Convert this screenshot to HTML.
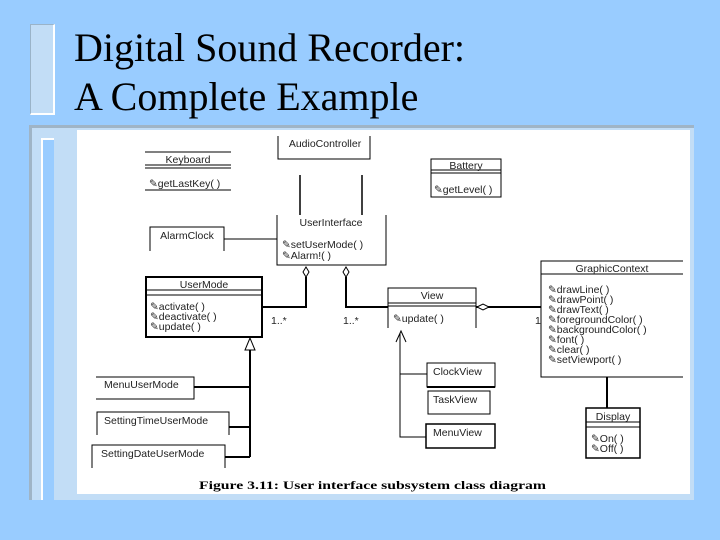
<!DOCTYPE html>
<html><head><style>
body{margin:0;width:720px;height:540px;background:#99ccff;overflow:hidden;position:relative;font-family:"Liberation Serif",serif}
.t{position:absolute;left:74px;font-size:40px;color:#000;line-height:1}
</style></head><body>
<div style="position:absolute;left:30px;top:24px;width:22px;height:88px;background:#c2ddf6;border:1px solid #9ab3c8;border-right:2px solid #fff;border-bottom:2px solid #fff"></div>
<div class="t" style="top:28px">Digital Sound Recorder:</div>
<div class="t" style="top:77px">A Complete Example</div>
<div style="position:absolute;left:29px;top:125px;width:662px;height:372px;background:#c2ddf6;border-top:3px solid #9fb4c6;border-left:3px solid #9fb4c6"></div>
<div style="position:absolute;left:41px;top:138px;width:11px;height:360px;background:#99ccff;border-left:2px solid #fff;border-top:2px solid #fff"></div>
<svg style="position:absolute;left:0;top:0" width="720" height="540" font-family="Liberation Sans, sans-serif" font-size="10.5" fill="#222">
<rect x="77" y="130" width="613" height="364" fill="#fff"/>
<g stroke="#000" fill="none" stroke-width="1">
<path d="M278 136V159H370V136"/>
<path d="M300 175V215M362 175V215" stroke-width="1.5"/>
<path d="M145 152H231M145 165H231M145 168H231M145 190H231"/>
<rect x="431" y="159" width="70" height="38"/><path d="M431 170H501M431 173H501"/>
<path d="M277 215V265H386V215"/>
<path d="M150 251V227H224V251"/><path d="M224 239H277" />
<rect x="146" y="277" width="116" height="60" stroke-width="2"/><path d="M146 290H262M146 295H262"/>
<path d="M306 277V307H262M346 277V307H388" stroke-width="2"/>
<path d="M306 267l3 5l-3 5l-3-5z M346 267l3 5l-3 5l-3-5z" fill="#fff" stroke-width="1"/>
<path d="M388 328V288H476V328M388 303H476M388 306H476"/>
<path d="M476 307H541" stroke-width="2"/>
<path d="M477 307l6-3l6 3l-6 3z" fill="#fff"/>
<path d="M683 261H541V377H683M541 274H683"/>
<path d="M607 377V408" stroke-width="2"/>
<rect x="586" y="408" width="54" height="50" stroke-width="1.5"/><path d="M586 422H640M586 427H640"/>
<path d="M250 338l-5 12h10z" fill="#fff"/>
<path d="M250 350V457M194 387H250M229 427H250M225 457H250" stroke-width="2"/>
<path d="M96 377H194V399H96"/>
<path d="M97 435V412H229V435"/>
<path d="M92 468V445H225V468"/>
<path d="M396 342L401 331L406 342"/>
<path d="M400 333V437H426M400 374H427"/>
<rect x="427" y="363" width="68" height="24" /><path d="M427 387H495" stroke-width="2"/>
<rect x="428" y="391" width="62" height="23"/>
<rect x="426" y="424" width="69" height="24" stroke-width="1.5"/>
</g>
<g text-anchor="middle">
<text x="325" y="147">AudioController</text>
<text x="188" y="163">Keyboard</text>
<text x="466" y="169">Battery</text>
<text x="331" y="226">UserInterface</text>
<text x="187" y="239">AlarmClock</text>
<text x="204" y="288">UserMode</text>
<text x="432" y="299">View</text>
<text x="612" y="272">GraphicContext</text>
<text x="613" y="420">Display</text>
</g>
<text x="149" y="187">✎getLastKey( )</text>
<text x="434" y="193">✎getLevel( )</text>
<text x="282" y="248">✎setUserMode( )</text>
<text x="282" y="259">✎Alarm!( )</text>
<text x="150" y="310">✎activate( )</text>
<text x="150" y="320">✎deactivate( )</text>
<text x="150" y="330">✎update( )</text>
<text x="393" y="322">✎update( )</text>
<text x="271" y="324">1..*</text>
<text x="343" y="324">1..*</text>
<text x="535" y="324">1</text>
<g><text x="548" y="293">✎drawLine( )</text><text x="548" y="303">✎drawPoint( )</text><text x="548" y="313">✎drawText( )</text><text x="548" y="323">✎foregroundColor( )</text><text x="548" y="333">✎backgroundColor( )</text><text x="548" y="343">✎font( )</text><text x="548" y="353">✎clear( )</text><text x="548" y="363">✎setViewport( )</text></g>
<text x="591" y="442">✎On( )</text><text x="591" y="452">✎Off( )</text>
<text x="104" y="388">MenuUserMode</text>
<text x="104" y="424">SettingTimeUserMode</text>
<text x="101" y="457">SettingDateUserMode</text>
<text x="433" y="375">ClockView</text>
<text x="433" y="403">TaskView</text>
<text x="433" y="436">MenuView</text>
<text x="199" y="489" textLength="347" lengthAdjust="spacingAndGlyphs" font-family="Liberation Serif, serif" font-weight="bold" font-size="12" fill="#000">Figure 3.11: User interface subsystem class diagram</text>
</svg>
</body></html>
